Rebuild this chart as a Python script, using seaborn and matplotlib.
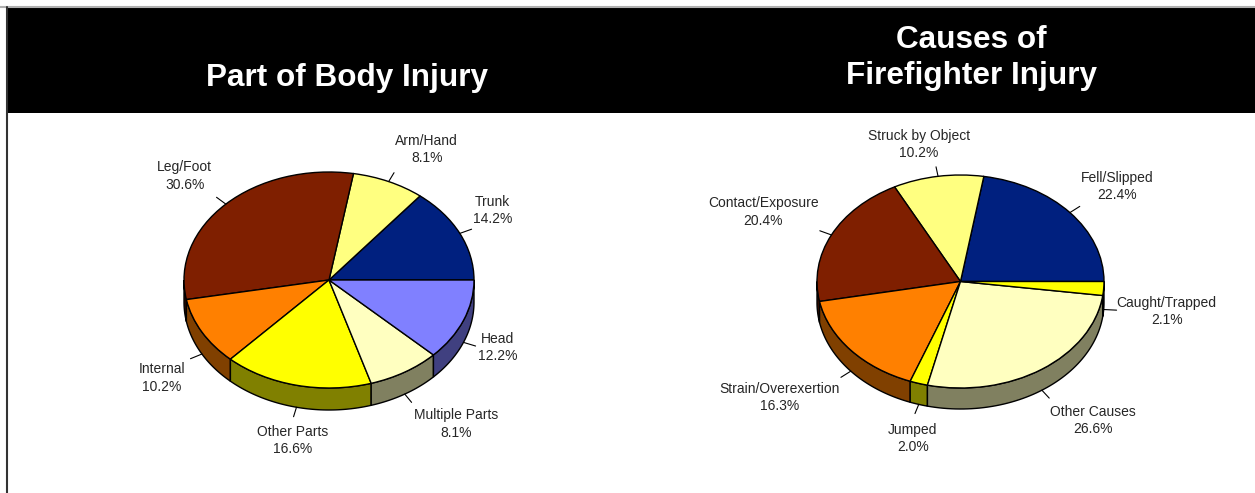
import numpy as np
import seaborn as sns
import matplotlib
matplotlib.use('Agg')
import matplotlib.pyplot as plt
from matplotlib.patches import Rectangle, Polygon
from matplotlib.colors import to_rgb

# --- data ---
body_parts = ["Trunk", "Arm/Hand", "Leg/Foot", "Internal", "Other Parts", "Multiple Parts", "Head"]
body_pct = [14.2, 8.1, 30.6, 10.2, 16.6, 8.1, 12.2]
body_colors = ["#00207f", "#ffff80", "#7f1f00", "#ff8000", "#ffff00", "#ffffc0", "#8080ff"]

causes = ["Fell/Slipped", "Struck by Object", "Contact/Exposure", "Strain/Overexertion",
          "Jumped", "Other Causes", "Caught/Trapped"]
causes_pct = [22.4, 10.2, 20.4, 16.3, 2.0, 26.6, 2.1]
causes_colors = ["#00207f", "#ffff80", "#7f1f00", "#ff8000", "#ffff00", "#ffffc0", "#ffff00"]

# label offsets (pixels, y down) from the pie edge at each slice's middle
body_offsets = [(33, -23), (38, -32), (-41, -28), (-40, 24), (-4, 33), (51, 30), (34, 5)]
causes_offsets = [(47, -26), (-19, -32), (-68, -23), (-71, 26), (-6, 34), (51, 30), (63, 2)]

W, H = 1255, 493
HEADER_TOP, HEADER_BOT = 8, 113

sns.set_theme(style="white")
plt.rcParams['font.family'] = ['Liberation Sans', 'DejaVu Sans']

fig = plt.figure(figsize=(W / 100, H / 100), dpi=100)


def pie3d(x0, x1, cx, cy, rx, ry, depth, values, colors, labels, offsets):
    # axes spans x0..x1 px horizontally, header bottom to figure bottom
    ax = fig.add_axes([x0 / W, 0, (x1 - x0) / W, (H - HEADER_BOT) / H])
    ax.pie(values, colors=colors, startangle=0, counterclock=True,
           wedgeprops=dict(edgecolor="black", linewidth=1, zorder=3))
    ax_h = H - HEADER_BOT
    ax.set_xlim(-(cx - x0) / rx, (x1 - cx) / rx)
    ax.set_ylim(-(H - cy) / ry, (ax_h - (H - cy)) / ry)
    ax.set_aspect('auto')
    ax.axis('off')

    d = depth / ry
    bounds = np.concatenate([[0], np.cumsum(values)]) / 100 * 360
    for i, (a1, a2) in enumerate(zip(bounds[:-1], bounds[1:])):
        # side wall for the front half
        lo, hi = max(a1, 180), min(a2, 360)
        if hi > lo:
            t = np.radians(np.linspace(lo, hi, 60))
            top = np.column_stack([np.cos(t), np.sin(t)])
            bot = np.column_stack([np.cos(t), np.sin(t) - d])[::-1]
            side = tuple(c * 0.5 for c in to_rgb(colors[i]))
            ax.add_patch(Polygon(np.vstack([top, bot]), closed=True, facecolor=side,
                                 edgecolor="black", linewidth=1, zorder=2))
        # label with leader
        mid = np.radians((a1 + a2) / 2)
        ex, ey = np.cos(mid), np.sin(mid)
        if ey < 0:
            ey -= d
        ax.plot([ex, ex + 0.09 * np.cos(mid)], [ey, ey + 0.09 * np.sin(mid)],
                color="black", linewidth=0.8, zorder=4)
        dx, dy = offsets[i]
        ax.annotate(f"{labels[i]}\n{values[i]:.1f}%", xy=(ex, ey), xytext=(dx, -dy),
                    textcoords="offset pixels", ha="center", va="center",
                    fontsize=10, linespacing=1.3, zorder=5)


# header band and frame lines
fig.patches.append(Rectangle((6 / W, 1 - HEADER_BOT / H), 1 - 6 / W, (HEADER_BOT - HEADER_TOP) / H,
                             transform=fig.transFigure, facecolor="black", edgecolor="none"))
fig.add_artist(plt.Line2D([0, 1], [1 - 7 / H, 1 - 7 / H], transform=fig.transFigure,
                          color="#b0b0b0", linewidth=1.5))
fig.add_artist(plt.Line2D([6.5 / W, 6.5 / W], [0, 1 - 7 / H], transform=fig.transFigure,
                          color="#333333", linewidth=1.5))

fig.text(347 / W, 1 - 78 / H, "Part of Body Injury", color="white", fontsize=22.7,
         fontweight="bold", ha="center", va="center")
fig.text(971 / W, 1 - 58 / H, "Causes of\nFirefighter Injury", color="white", fontsize=22.7,
         fontweight="bold", ha="center", va="center", linespacing=1.25)

pie3d(0, 627, 329, 280, 145, 108, 22, body_pct, body_colors, body_parts, body_offsets)
pie3d(627, 1255, 960.5, 281.5, 143.5, 106.5, 21, causes_pct, causes_colors, causes, causes_offsets)

fig.savefig("out.png", dpi=100)
